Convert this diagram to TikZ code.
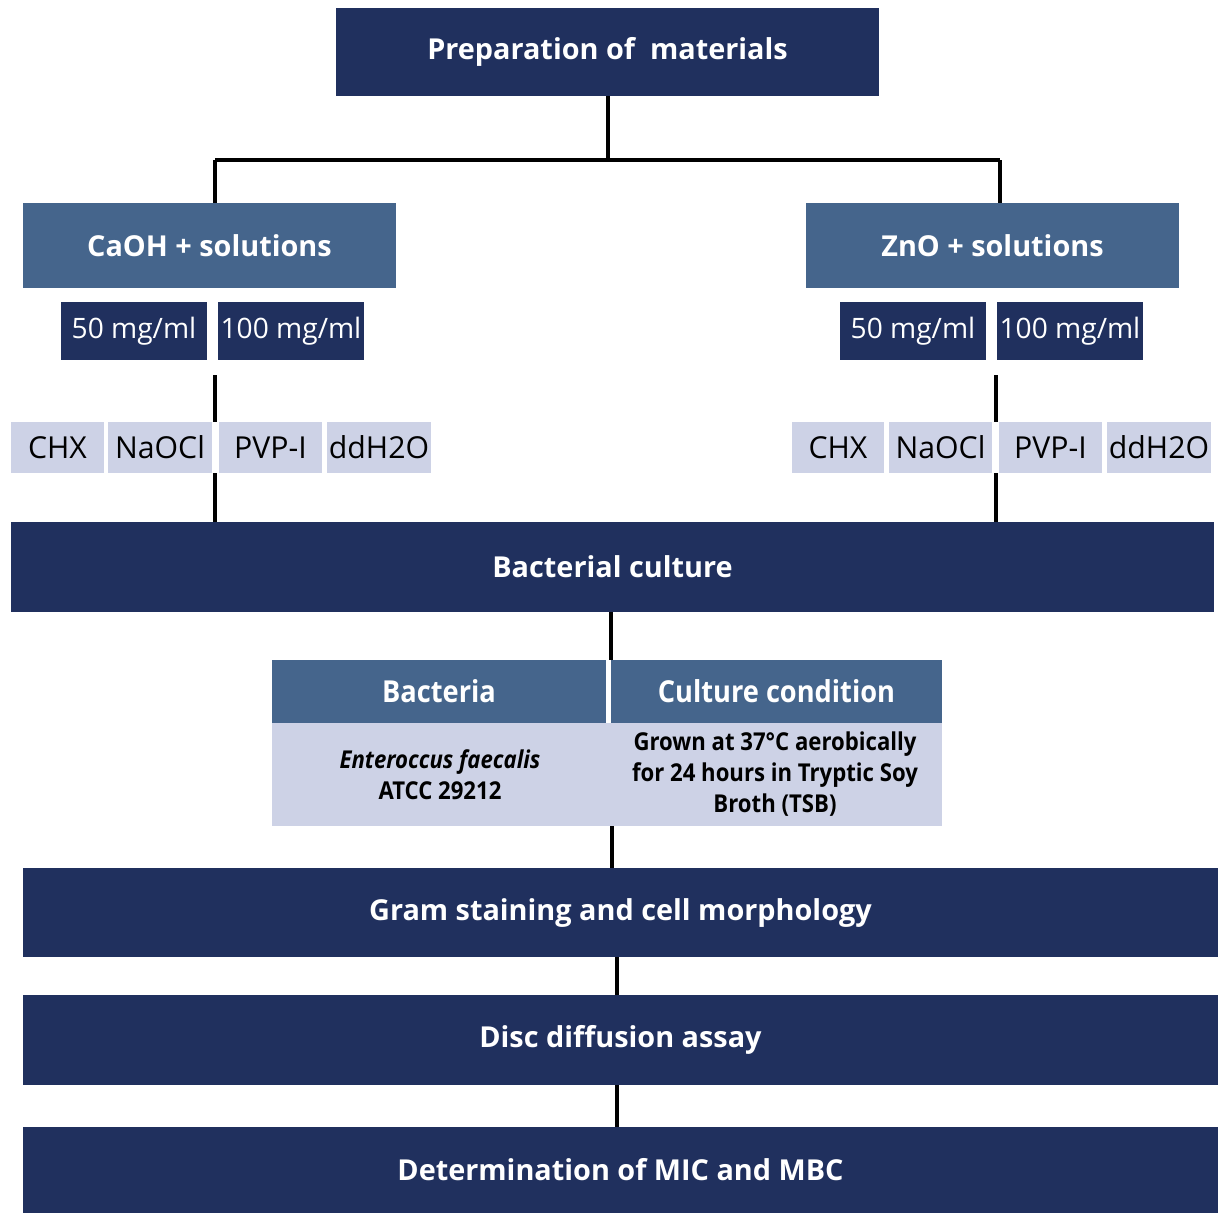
\documentclass[tikz,border=0pt]{standalone}
\usepackage{fontspec}
\setmainfont{Open Sans}
\newfontfamily\condfont[FakeStretch=0.9]{Open Sans}
\usetikzlibrary{positioning}
\definecolor{navy}{RGB}{32,48,94}
\definecolor{steel}{RGB}{69,101,140}
\definecolor{pale}{RGB}{205,210,230}
\tikzstyle{box}=[rectangle,inner sep=0pt,align=center]
\tikzstyle{stepbox}=[box,fill=navy,text=white,font=\bfseries\fontsize{20.5}{24}\selectfont]
\tikzstyle{groupbox}=[box,fill=steel,text=white,font=\bfseries\fontsize{20.5}{24}\selectfont]
\tikzstyle{concbox}=[box,fill=navy,text=white,font=\fontsize{20}{24}\selectfont]
\tikzstyle{solbox}=[box,fill=pale,text=black,font=\fontsize{21.5}{25}\selectfont]
\tikzstyle{headcell}=[box,fill=steel,text=white,font=\condfont\bfseries\fontsize{21.5}{25}\selectfont]
\tikzstyle{bodycell}=[box,fill=pale,text=black,font=\condfont\bfseries\fontsize{17.5}{22}\selectfont]
\tikzstyle{link}=[draw,line width=2.6pt]

\begin{document}
\begin{tikzpicture}[x=0.025cm,y=-0.025cm]
    \useasboundingbox (0,0) rectangle (1218,1213);
    % main steps
    \foreach \pos/\w/\h/\name/\txt in {(607.5,52)/543/88/prep/{Preparation of\ \ materials},
                            (612.5,567)/1203/90/bact/Bacterial culture,
                            (620.5,912.5)/1195/89/gram/Gram staining and cell morphology,
                            (620.5,1040)/1195/90/disc/Disc diffusion assay,
                            (620.5,1170)/1195/86/mic/Determination of MIC and MBC}
        \node[stepbox, minimum width=\w*0.025cm, minimum height=\h*0.025cm] (\name) at \pos {\txt};
    % the two groups
    \foreach \pos/\name/\txt in {(209.5,245.5)/caoh/CaOH + solutions, (992.5,245.5)/zno/ZnO + solutions}
        \node[groupbox, minimum width=373*0.025cm, minimum height=85*0.025cm] (\name) at \pos {\txt};
    % concentrations
    \foreach \x/\name/\txt in {134/lfifty/{50 mg/ml}, 291/lhundred/{100 mg/ml},
                               913/rfifty/{50 mg/ml}, 1070/rhundred/{100 mg/ml}}
        \node[concbox, minimum width=146*0.025cm, minimum height=58*0.025cm] (\name) at (\x,331) {\txt};
    % solutions
    \foreach \x/\w/\name/\txt in {57.5/93/lchx/CHX, 160/104/lnaocl/NaOCl, 270.5/103/lpvp/PVP-I, 379/104/lwater/ddH2O,
                                  838/92/rchx/CHX, 940.5/103/rnaocl/NaOCl, 1050.5/103/rpvp/PVP-I, 1159/104/rwater/ddH2O}
        \node[solbox, minimum width=\w*0.025cm, minimum height=51*0.025cm] (\name) at (\x,447.5) {\txt};
    % culture table
    \node[headcell, minimum width=334*0.025cm, minimum height=63*0.025cm] (bhead) at (439,691.5) {Bacteria};
    \node[headcell, minimum width=331*0.025cm, minimum height=63*0.025cm] (chead) at (776.5,691.5) {Culture condition};
    \node[bodycell, minimum width=336*0.025cm, minimum height=103*0.025cm] (bbody) at (440,774.5)
        {\itshape Enteroccus faecalis\\ATCC 29212};
    \node[bodycell, minimum width=334*0.025cm, minimum height=103*0.025cm] (cbody) at (775,774.5)
        {Grown at 37°C aerobically\\for 24 hours in Tryptic Soy\\Broth (TSB)};
    % connectors
    \coordinate (split) at (608,160);
    \coordinate (lstem) at (215,375);
    \coordinate (rstem) at (996,375);
    \path[link] (prep.south -| split) -- (split);
    \path[link] (215,160) -- (1000,160);
    \path[link] (split -| 215,0) -- (caoh.north -| 215,0);
    \path[link] (split -| 1000,0) -- (zno.north -| 1000,0);
    \path[link] (lstem) -- (lstem |- lnaocl.north);
    \path[link] (lstem |- lnaocl.south) -- (lstem |- bact.north);
    \path[link] (rstem) -- (rstem |- rnaocl.north);
    \path[link] (rstem |- rnaocl.south) -- (rstem |- bact.north);
    \path[link] (bact.south -| 611,0) -- (bhead.north -| 611,0);
    \path[link] (bbody.south -| 612,0) -- (gram.north -| 612,0);
    \path[link] (gram.south -| 617,0) -- (disc.north -| 617,0);
    \path[link] (disc.south -| 617,0) -- (mic.north -| 617,0);
\end{tikzpicture}
\end{document}
